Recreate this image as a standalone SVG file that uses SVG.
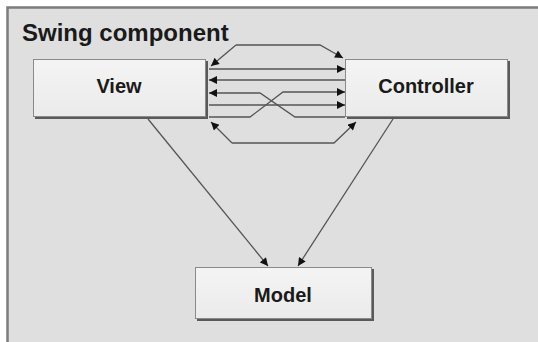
<svg xmlns="http://www.w3.org/2000/svg" width="538" height="342" viewBox="0 0 538 342">
  <defs>
    <marker id="arrow" viewBox="0 0 10 10" refX="10" refY="5" markerWidth="9" markerHeight="8" markerUnits="userSpaceOnUse" orient="auto">
      <path d="M0,0 L10,5 L0,10 Z" fill="#111"/>
    </marker>
    <linearGradient id="boxFill" x1="0" y1="0" x2="0" y2="1">
      <stop offset="0" stop-color="#f4f4f4"/>
      <stop offset="1" stop-color="#ebebeb"/>
    </linearGradient>
  </defs>
  <style>
    .label { font-family: "Liberation Sans", Arial, sans-serif; font-weight: bold; fill: #1a1a1a; }
    .box { fill: url(#boxFill); stroke: #8a8a8a; stroke-width: 1; }
    .shadow { fill: #5a5a5a; }
    .conn { fill: none; stroke: #555; stroke-width: 1.3; }
  </style>

  <!-- white page with the grey container panel -->
  <rect x="0" y="0" width="538" height="342" fill="#ffffff"/>
  <g id="container">
    <rect x="7.5" y="7.5" width="540" height="340" fill="#dfdfdf" stroke="#7c7c7c" stroke-width="2.5"/>
    <text class="label" x="22" y="41" font-size="24">Swing component</text>
  </g>

  <!-- nodes -->
  <g id="view">
    <rect class="shadow" x="35" y="61" width="173" height="58"/>
    <rect class="box" x="33.5" y="59.5" width="172" height="57"/>
    <text class="label" x="119" y="93" font-size="20" text-anchor="middle">View</text>
  </g>
  <g id="controller">
    <rect class="shadow" x="347" y="61" width="163" height="58"/>
    <rect class="box" x="345.5" y="59.5" width="162" height="57"/>
    <text class="label" x="426" y="93" font-size="20" text-anchor="middle">Controller</text>
  </g>
  <g id="model">
    <rect class="shadow" x="197" y="269" width="177" height="52"/>
    <rect class="box" x="195.5" y="267.5" width="176" height="51"/>
    <text class="label" x="283" y="302" font-size="20" text-anchor="middle">Model</text>
  </g>

  <!-- connectors -->
  <g id="connectors">
    <!-- upper bracket, arrows at both boxes -->
    <path class="conn" d="M236,45 L211,66" marker-end="url(#arrow)"/>
    <path class="conn" d="M236,45 L320,45 L343,58" marker-end="url(#arrow)"/>
    <!-- straight event lines -->
    <path class="conn" d="M209,69 H345" marker-end="url(#arrow)"/>
    <path class="conn" d="M345,80 H209" marker-end="url(#arrow)"/>
    <path class="conn" d="M209,105 H345" marker-end="url(#arrow)"/>
    <!-- crossing lines -->
    <path class="conn" d="M345,117 H295 L260,93 H209" marker-end="url(#arrow)"/>
    <path class="conn" d="M209,117 H250 L283,92 H345" marker-end="url(#arrow)"/>
    <!-- lower bracket, arrows at both boxes -->
    <path class="conn" d="M232,143 L211,122" marker-end="url(#arrow)"/>
    <path class="conn" d="M232,143 L334,143 L356,122" marker-end="url(#arrow)"/>
    <!-- links down to the model -->
    <path class="conn" d="M148,119 L268,266" marker-end="url(#arrow)"/>
    <path class="conn" d="M393,119 L298,266" marker-end="url(#arrow)"/>
  </g>
</svg>
